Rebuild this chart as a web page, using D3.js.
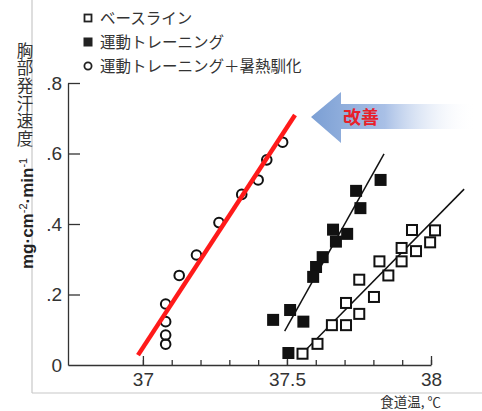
<!DOCTYPE html>
<meta charset="utf-8">
<head>
<style>
  body { margin: 0; background: #fff; }
  svg { display: block; font-family: "Liberation Sans", Arial, sans-serif; }
  .jp { font-family: "Noto Sans CJK JP", sans-serif; }
  .axis path, .axis line { stroke: #333; stroke-width: 1.3px; }
  .axis text { fill: #333; font-size: 19px; }
</style>
</head>
<body>
<script src="https://d3js.org/d3.v7.min.js"></script>
<script>

// series labels
var seriesNames = ["ベースライン", "運動トレーニング", "運動トレーニング＋暑熱馴化"];

// baseline (open squares): [esophageal temp, sweat rate]
var baseline = [
  [37.554, 0.032], [37.606, 0.060], [37.656, 0.113], [37.705, 0.113],
  [37.751, 0.145], [37.705, 0.176], [37.802, 0.193], [37.751, 0.242],
  [37.852, 0.254], [37.821, 0.294], [37.898, 0.294], [37.898, 0.332],
  [37.948, 0.323], [37.997, 0.348], [37.934, 0.383], [38.014, 0.382]
];

// exercise training (filled squares)
var training = [
  [37.825, 0.525], [37.740, 0.494], [37.755, 0.445], [37.660, 0.384],
  [37.709, 0.372], [37.670, 0.350], [37.624, 0.306], [37.601, 0.278],
  [37.591, 0.250], [37.511, 0.156], [37.452, 0.128], [37.557, 0.123],
  [37.505, 0.034]
];

// exercise training + heat acclimatization (open circles)
var acclim = [
  [37.079, 0.059], [37.079, 0.085], [37.079, 0.123], [37.079, 0.173],
  [37.126, 0.254], [37.186, 0.312], [37.264, 0.404], [37.343, 0.484],
  [37.400, 0.525], [37.430, 0.582], [37.485, 0.632]
];

// fitted lines (end points)
var baselineFit = [[37.566, 0.043], [38.115, 0.499]];
var trainingFit = [[37.492, 0.096], [37.837, 0.599]];
var acclimFit = [[36.983, 0.028], [37.528, 0.709]];

var yTicks = [0, 0.2, 0.4, 0.6, 0.8];
var xMajor = [37, 37.5, 38];
var xMinor = [37, 37.1, 37.2, 37.3, 37.4, 37.5, 37.6, 37.7, 37.8, 37.9, 38];

var width = 482, height = 411;

var x = d3.scaleLinear().domain([36.74, 38]).range([68, 431]);
var y = d3.scaleLinear().domain([0, 0.8]).range([365, 83]);

var svg = d3.select("body").append("svg")
    .attr("width", width)
    .attr("height", height);

var defs = svg.append("defs");
var grad = defs.append("linearGradient")
    .attr("id", "arrowGrad")
    .attr("x1", "0%").attr("x2", "100%").attr("y1", "0%").attr("y2", "0%");
grad.append("stop").attr("offset", "0%").attr("stop-color", "#7b9fd4");
grad.append("stop").attr("offset", "45%").attr("stop-color", "#a9c0e6");
grad.append("stop").attr("offset", "100%").attr("stop-color", "#ffffff").attr("stop-opacity", 0);

// light frame
svg.append("line")
    .attr("x1", 32).attr("x2", 32).attr("y1", 0).attr("y2", 393)
    .attr("stroke", "#c8c8c8").attr("stroke-width", 1.2);
svg.append("line")
    .attr("x1", 32).attr("x2", width).attr("y1", 393).attr("y2", 393)
    .attr("stroke", "#c8c8c8").attr("stroke-width", 1.2);

// improvement arrow
var ay = 117;
svg.append("path")
    .attr("d", "M311," + ay + " L341," + (ay - 25) + " L341," + (ay - 13) +
               " L475," + (ay - 13) + " L475," + (ay + 12) + " L341," + (ay + 12) +
               " L341," + (ay + 26) + " Z")
    .attr("fill", "url(#arrowGrad)");
svg.append("text")
    .attr("class", "jp")
    .attr("x", 361).attr("y", ay + 7)
    .attr("text-anchor", "middle")
    .attr("font-size", 18)
    .attr("font-weight", "bold")
    .attr("fill", "#e8202a")
    .text("改善");

// y axis
var yAxis = svg.append("g")
    .attr("class", "axis")
    .attr("transform", "translate(68,0)")
    .call(d3.axisLeft(y)
        .tickValues(yTicks)
        .tickSizeInner(-12)
        .tickSizeOuter(0)
        .tickPadding(6)
        .tickFormat(function(d) { return d === 0 ? "0" : String(d).replace("0.", "."); }));
yAxis.selectAll(".tick").filter(function(d) { return d === 0; }).select("line").remove();

// x axis minor ticks
svg.append("g")
    .attr("class", "axis")
    .attr("transform", "translate(0,365)")
    .call(d3.axisTop(x).tickValues(xMinor).tickSize(5).tickSizeOuter(0).tickFormat(""));

// x axis major ticks + labels
var xAxis = svg.append("g")
    .attr("class", "axis")
    .attr("transform", "translate(0,365)")
    .call(d3.axisBottom(x).tickValues(xMajor).tickSizeInner(-9).tickSizeOuter(0).tickPadding(8)
        .tickFormat(function(d) { return String(d); }));
xAxis.select(".domain").remove();

// x title
svg.append("text")
    .attr("class", "jp")
    .attr("x", 441).attr("y", 407)
    .attr("text-anchor", "end")
    .attr("font-size", 13.5)
    .attr("fill", "#333")
    .text("食道温, ℃");

// y title, written vertically
svg.append("text")
    .attr("class", "jp")
    .attr("x", 25).attr("y", 42)
    .style("writing-mode", "vertical-rl")
    .style("text-orientation", "upright")
    .attr("letter-spacing", 1.2)
    .attr("font-size", 16.5)
    .attr("fill", "#333")
    .text("胸部発汗速度");

var unit = svg.append("text")
    .attr("transform", "translate(33,269) rotate(-90)")
    .attr("font-size", 17)
    .attr("font-weight", "bold")
    .attr("fill", "#222");
unit.append("tspan").text("mg·cm");
unit.append("tspan").attr("dy", -6).attr("font-size", 11).attr("font-weight", "normal").text("-2");
unit.append("tspan").attr("dy", 6).text("·min");
unit.append("tspan").attr("dy", -6).attr("font-size", 11).attr("font-weight", "normal").text("-1");

// fit lines
var line = d3.line().x(function(d) { return x(d[0]); }).y(function(d) { return y(d[1]); });

svg.append("path").datum(baselineFit).attr("d", line)
    .attr("fill", "none").attr("stroke", "#111").attr("stroke-width", 1.5);
svg.append("path").datum(trainingFit).attr("d", line)
    .attr("fill", "none").attr("stroke", "#111").attr("stroke-width", 1.5);

// baseline squares
svg.selectAll(".base")
    .data(baseline)
    .enter().append("rect")
    .attr("x", function(d) { return x(d[0]) - 5; })
    .attr("y", function(d) { return y(d[1]) - 5; })
    .attr("width", 10).attr("height", 10)
    .attr("fill", "#fff").attr("stroke", "#111").attr("stroke-width", 2);

// training squares
svg.selectAll(".train")
    .data(training)
    .enter().append("rect")
    .attr("x", function(d) { return x(d[0]) - 6; })
    .attr("y", function(d) { return y(d[1]) - 6; })
    .attr("width", 12).attr("height", 12)
    .attr("fill", "#111");

// acclimatization circles
svg.selectAll(".accl")
    .data(acclim)
    .enter().append("circle")
    .attr("cx", function(d) { return x(d[0]); })
    .attr("cy", function(d) { return y(d[1]); })
    .attr("r", 4.8)
    .attr("fill", "none").attr("stroke", "#111").attr("stroke-width", 2);

svg.append("path").datum(acclimFit).attr("d", line)
    .attr("fill", "none").attr("stroke", "#ff1a1a").attr("stroke-width", 4.5);

// legend
var legend = svg.selectAll(".legend")
    .data(seriesNames)
    .enter().append("g")
    .attr("transform", function(d, i) { return "translate(88," + (18 + i * 24) + ")"; });

legend.each(function(d, i) {
  var g = d3.select(this);
  if (i === 0) {
    g.append("rect").attr("x", -3.5).attr("y", -3.5).attr("width", 7).attr("height", 7)
        .attr("fill", "#fff").attr("stroke", "#222").attr("stroke-width", 1.8);
  } else if (i === 1) {
    g.append("rect").attr("x", -4.5).attr("y", -4.5).attr("width", 9).attr("height", 9)
        .attr("fill", "#222");
  } else {
    g.append("circle").attr("r", 3.6)
        .attr("fill", "none").attr("stroke", "#222").attr("stroke-width", 1.8);
  }
  g.append("text")
      .attr("class", "jp")
      .attr("x", 12).attr("y", 5.5)
      .attr("font-size", 15.5)
      .attr("fill", "#333")
      .text(d);
});

</script>
</body>
